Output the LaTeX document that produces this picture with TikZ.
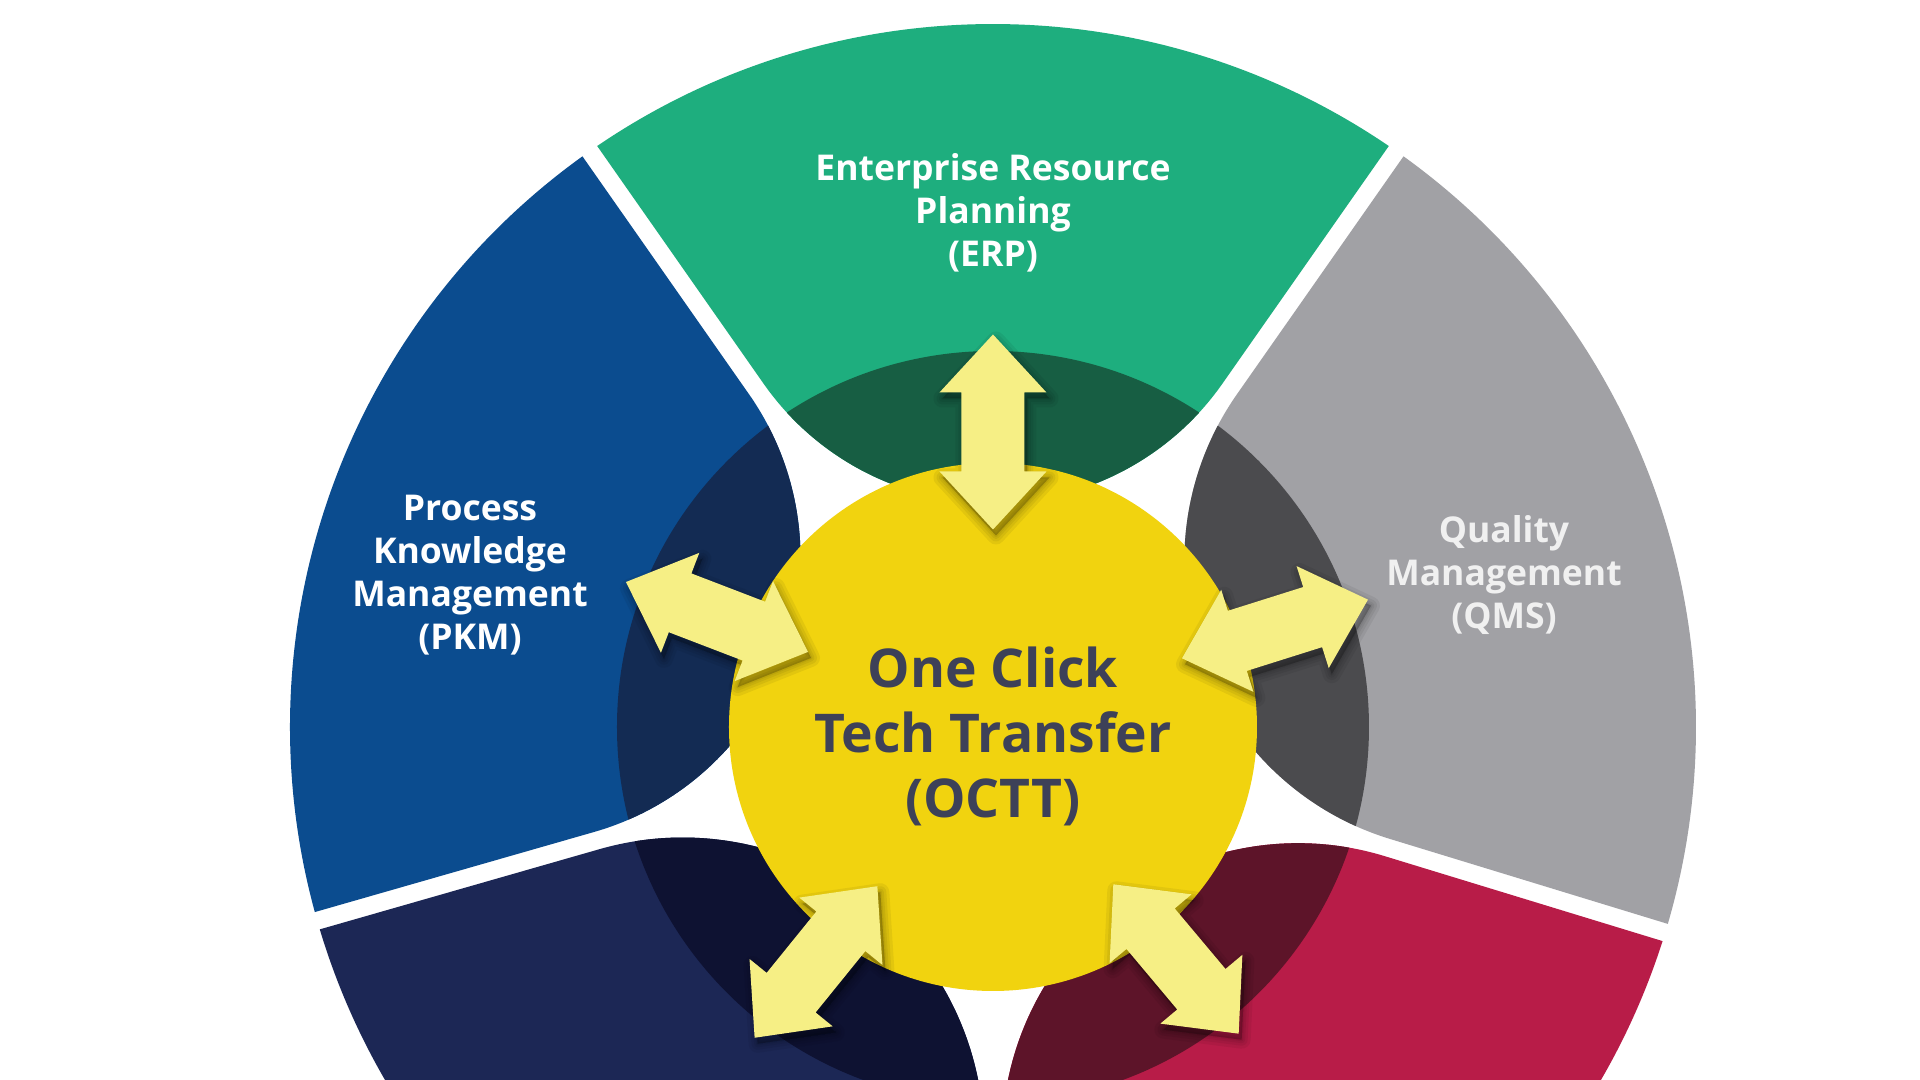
\documentclass[tikz,border=0pt]{standalone}
\usepackage{fontspec}
\IfFontExistsTF{Noto Sans Bold}{\setmainfont{Noto Sans}[BoldFont={Noto Sans Bold}]}{\setmainfont{Open Sans}}
\usetikzlibrary{calc}
\definecolor{grnL}{HTML}{1EAE7E}
\definecolor{grnD}{HTML}{175E43}
\definecolor{bluL}{HTML}{0B4C8F}
\definecolor{bluD}{HTML}{132B53}
\definecolor{navL}{HTML}{1C2755}
\definecolor{navD}{HTML}{0E1232}
\definecolor{redL}{HTML}{B81C48}
\definecolor{redD}{HTML}{5D1429}
\definecolor{gryL}{HTML}{A1A1A5}
\definecolor{gryD}{HTML}{4B4B4E}
\definecolor{yel}{HTML}{F1D30F}
\definecolor{arr}{HTML}{F6EF85}
\definecolor{ctext}{HTML}{3D4158}
\newcommand\Rout{703}
\newcommand\Rdark{376}
\newcommand\gaph{9}
\newcommand\tanL{400}
% petal: #1 start angle, #2 end angle, #3 light colour, #4 dark colour, #5 name
\newcommand\drawpetal[5]{%
  \pgfmathsetmacro\pa{#1}%
  \pgfmathsetmacro\pb{#2}%
  \pgfmathsetmacro\phalf{(\pb-\pa)/2}%
  \pgfmathsetmacro\pmid{(\pa+\pb)/2}%
  \pgfmathsetmacro\papex{\gaph/sin(\phalf)}%
  \pgfmathsetmacro\prho{\tanL*tan(\phalf)}%
  \pgfmathsetmacro\pdel{asin(\gaph/\Rout)}%
  \pgfmathsetmacro\pas{\pa+\pdel}%
  \pgfmathsetmacro\pbs{\pb-\pdel}%
  \pgfmathsetmacro\parcs{\pa-90}%
  \pgfmathsetmacro\parce{\pb-270}%
  \coordinate (#5-e1) at ($(\pmid:\papex)+(\pa:\tanL)$);
  \def\petalpath{(\pas:\Rout) -- (#5-e1) arc[start angle=\parcs, end angle=\parce, radius=\prho]
      -- (\pbs:\Rout) arc[start angle=\pbs, end angle=\pas, radius=\Rout] -- cycle}%
  \fill[#3] \petalpath;
  \begin{scope}
    \clip \petalpath;
    \fill[#4] (0,0) circle[radius=\Rdark];
  \end{scope}
}
\tikzset{
  label/.style={text=white, align=center, font=\bfseries\fontsize{10.1}{12.2}\selectfont},
  centre/.style={text=ctext, align=center, font=\bfseries\fontsize{15.2}{18.5}\selectfont},
  arrowshape/.style={fill=arr},
  arrowshadow/.style={fill=black, draw=black, opacity=0.06, line join=round}
}
\newcommand\arrowpoly{(97.5,0) -- (39.5,53.5) -- (39.5,31.5) -- (-39.5,31.5) -- (-39.5,53.5) -- (-97.5,0) -- (-39.5,-53.5) -- (-39.5,-31.5) -- (39.5,-31.5) -- (39.5,-53.5) -- cycle}
% double arrow: #1 centre, #2 angle
\newcommand\dblarrow[2]{%
  \begin{scope}[shift={#1}]
    \begin{scope}[shift={(3,-6)}, rotate=#2]
      \foreach \w in {18,12,7,3} {\filldraw[arrowshadow, line width=\w*0.01cm] \arrowpoly;}
    \end{scope}
    \begin{scope}[rotate=#2]
      \fill[arrowshape] \arrowpoly;
    \end{scope}
  \end{scope}
}
\begin{document}
\begin{tikzpicture}[x=0.01cm, y=0.01cm]
  \useasboundingbox (-993,-353) rectangle (927,727);
  \clip (-993,-353) rectangle (927,727);
  \fill[white] (-993,-353) rectangle (927,727);
  \drawpetal{55}{125}{grnL}{grnD}{erp}
  \drawpetal{125}{196}{bluL}{bluD}{pkm}
  \drawpetal{196}{270}{navL}{navD}{nav}
  \drawpetal{270}{343}{redL}{redD}{red}
  \drawpetal{-17}{55}{gryL}{gryD}{qms}
  \fill[yel] (0,0) circle[radius=264];
  \node[centre] (octt) at (0,-9) {One Click\\Tech Transfer\\(OCTT)};
  \dblarrow{(0,295)}{90}
  \dblarrow{(-276,110)}{159}
  \dblarrow{(282,98)}{17.5}
  \dblarrow{(-177,-235)}{231}
  \dblarrow{(183,-232)}{310}
  \node[label] (erptext) at (0,514) {Enterprise Resource\\Planning\\(ERP)};
  \node[label] (pkmtext) at (-523,152) {Process\\Knowledge\\Management\\(PKM)};
  \node[label, text=white!94!black] (qmstext) at (511,152) {Quality\\Management\\(QMS)};
\end{tikzpicture}
\end{document}
